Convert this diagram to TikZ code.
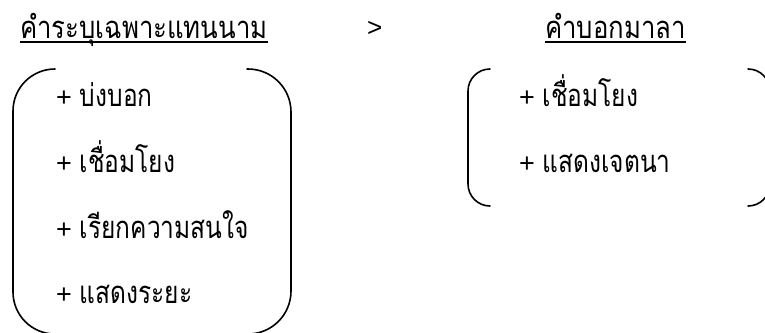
\documentclass[tikz,border=0pt]{standalone}
\usepackage{fontspec}
\newfontfamily\thaifont[Script=Thai]{Loma}
\newfontfamily\latfont{Liberation Sans}
\newcommand\thx[1]{\scalebox{0.79}[1]{#1}}
\newcommand\thttl[1]{\scalebox{0.83}[1]{#1}}
\newcommand\plusmark{{\latfont\fontsize{27}{30}\selectfont +}\hspace{8pt}}
\tikzset{
  txt/.style={anchor=base west, inner sep=0pt, font=\thaifont\fontsize{31}{34}\selectfont},
  ttl/.style={anchor=base west, inner sep=0pt, font=\thaifont\fontsize{31}{34}\selectfont},
  brk/.style={line width=1.6pt, line cap=round},
  uline/.style={line width=1.2pt}
}
\begin{document}
\begin{tikzpicture}[x=1pt,y=-1pt]
\useasboundingbox (0,0) rectangle (765,332);
\clip (0,0) rectangle (765,332);
% titles
\node[ttl] (t1) at (20,38) {\thttl{คำระบุเฉพาะแทนนาม}};
\node[ttl, font=\latfont\fontsize{26}{30}\selectfont] (gt) at (367,36) {>};
\node[ttl] (t2) at (545,38) {\thttl{คำบอกมาลา}};
\draw[uline] (t1.west |- 0,42) -- (t1.east |- 0,42);
\draw[uline] (t2.west |- 0,42) -- (t2.east |- 0,42);
% left box brackets
\draw[brk, rounded corners=42pt] (55,69) -- (13,69) -- (13,334) -- (55,334);
\draw[brk, rounded corners=43pt] (247,69) -- (291,69) -- (291,334) -- (247,334);
% right box brackets
\draw[brk, rounded corners=22pt] (490,69) -- (468,69) -- (468,206) -- (490,206);
\draw[brk, rounded corners=22pt] (748,69) -- (770,69) -- (770,206) -- (748,206);
% left items
\node[txt] (a1) at (56,106) {\plusmark\thx{บ่งบอก}};
\node[txt] (a2) at (56,172) {\plusmark\thx{เชื่อมโยง}};
\node[txt] (a3) at (56,238) {\plusmark\thx{เรียกความสนใจ}};
\node[txt] (a4) at (56,303) {\plusmark\thx{แสดงระยะ}};
% right items
\node[txt] (b1) at (519,106) {\plusmark\thx{เชื่อมโยง}};
\node[txt] (b2) at (519,172) {\plusmark\thx{แสดงเจตนา}};
\end{tikzpicture}
\end{document}
